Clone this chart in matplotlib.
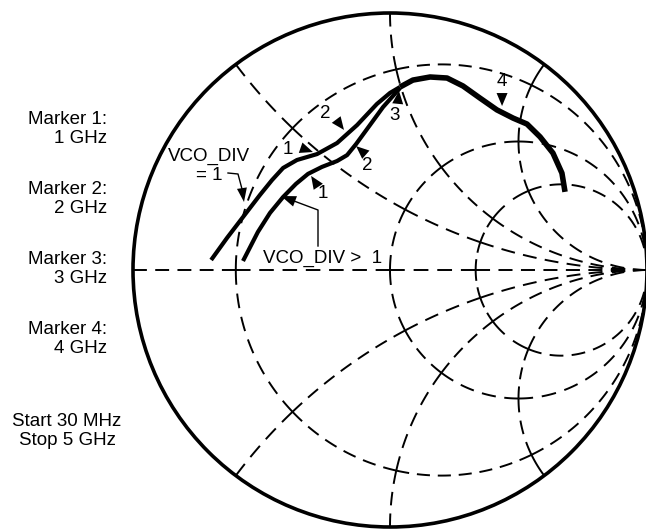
import numpy as np
import matplotlib
matplotlib.use('Agg')
import matplotlib.pyplot as plt
from matplotlib.patches import Polygon, Circle

plt.rcParams['font.family'] = ['Liberation Sans', 'DejaVu Sans']
plt.rcParams['lines.scale_dashes'] = False

# Smith chart grid: constant resistance circles and reactance arcs
r_circles = [0.25, 1, 2]
x_arcs = [0.5, 1, 2]

# Reflection coefficient traces (real, imag)
vco1_re = [-0.696, -0.634, -0.572, -0.506, -0.459, -0.416, -0.362, -0.284, -0.206, -0.128, -0.051, 0.000, 0.039]
vco1_im = [0.039, 0.125, 0.206, 0.292, 0.350, 0.397, 0.428, 0.451, 0.494, 0.564, 0.646, 0.689, 0.712]
vcoN_re = [-0.572, -0.514, -0.467, -0.416, -0.366, -0.319, -0.265, -0.206, -0.167, -0.132, -0.086, -0.027, 0.039]
vcoN_im = [0.035, 0.148, 0.222, 0.284, 0.335, 0.374, 0.401, 0.424, 0.447, 0.490, 0.553, 0.634, 0.708]
# above 3 GHz both traces run together
both_re = [0.039, 0.089, 0.156, 0.222, 0.284, 0.350, 0.416, 0.479, 0.533, 0.584, 0.634, 0.669, 0.681]
both_im = [0.712, 0.739, 0.751, 0.747, 0.716, 0.669, 0.623, 0.591, 0.568, 0.518, 0.455, 0.377, 0.304]

# frequency markers: label, tip position (re, im)
marker_text = ['1', '2', '1', '2', '3', '4']
marker_re = [-0.300, -0.179, -0.307, -0.132, 0.035, 0.436]
marker_im = [0.459, 0.545, 0.366, 0.482, 0.697, 0.638]

side_labels = ['Marker 1:\n1 GHz', 'Marker 2:\n2 GHz', 'Marker 3:\n3 GHz', 'Marker 4:\n4 GHz']

# layout (pixels of the 646x529 picture)
W, H = 646, 529
CX, CY, R = 390, 270, 257


def g(px, py):
    return (px - CX) / R, (CY - py) / R


fig = plt.figure(figsize=(W / 100, H / 100), dpi=100)
ax = fig.add_axes([0, 0, 1, 1])
ax.set_xlim(-CX / R, (W - CX) / R)
ax.set_ylim(-(H - CY) / R, CY / R)
ax.axis('off')

PT = R * 0.72  # points per chart unit


def dashed(xs, ys, lw=1.4, dash=10.0, gap=6.0):
    # fit a whole number of dashes so each segment starts and ends on a dash
    L = np.hypot(np.diff(xs), np.diff(ys)).sum() * PT
    n = max(1, int(round((L + gap) / (dash + gap))))
    if n == 1:
        ax.plot(xs, ys, color='k', lw=lw, solid_capstyle='butt')
        return
    s = L / (n * dash + (n - 1) * gap)
    ax.plot(xs, ys, color='k', lw=lw, linestyle=(0, (dash * s, gap * s)),
            dash_capstyle='butt')


def gamma(r, x):
    z = complex(r, x)
    return (z - 1) / (z + 1)


# resistance circles, split at every reactance arc
x_all = sorted(x_arcs + [-v for v in x_arcs] + [0], reverse=True)
for r in r_circles:
    c, rho = r / (1 + r), 1 / (1 + r)
    angs = [0.0] + [np.angle(gamma(r, xv) - c) % (2 * np.pi) for xv in x_all] + [2 * np.pi]
    for a0, a1 in zip(angs[:-1], angs[1:]):
        t = np.linspace(a0, a1, 80)
        dashed(c + rho * np.cos(t), rho * np.sin(t))

# reactance arcs, split at every resistance circle
r_all = [0] + r_circles
for xv in x_arcs + [-v for v in x_arcs]:
    cen = complex(1, 1 / xv)
    rho = 1 / abs(xv)
    pts = [gamma(r, xv) for r in r_all] + [1 + 0j]
    angs = np.unwrap([np.angle(p - cen) for p in pts])
    for a0, a1 in zip(angs[:-1], angs[1:]):
        t = np.linspace(a0, a1, 80)
        dashed(cen.real + rho * np.cos(t), cen.imag + rho * np.sin(t))

# real axis
axis_pts = [-1.0] + [(r - 1) / (r + 1) for r in r_circles] + [1.0]
for a, b in zip(axis_pts[:-1], axis_pts[1:]):
    dashed(np.array([a, b]), np.array([0.0, 0.0]))

ax.add_patch(Circle((0, 0), 1, fill=False, lw=2.6, color='k'))

# traces
ax.plot(vco1_re, vco1_im, color='k', lw=3.0, solid_capstyle='butt', solid_joinstyle='round')
ax.plot(vcoN_re, vcoN_im, color='k', lw=3.0, solid_capstyle='butt', solid_joinstyle='round')
ax.plot(both_re, both_im, color='k', lw=4.0, solid_capstyle='butt', solid_joinstyle='round')


def tri(tip, d, L=13, w=5.5):
    d = np.array(d, float)
    d /= np.hypot(*d)
    p = np.array([-d[1], d[0]])
    tip = np.array(tip)
    base = tip - L / R * d
    ax.add_patch(Polygon([tip, base + w / R * p, base - w / R * p],
                         closed=True, facecolor='k', edgecolor='none'))


FS = 13.5
marker_dir = [(1, -0.35), (0.6, -0.8), (-0.55, 0.83), (-0.75, 0.66), (0.1, 1), (0, -1)]
label_px = [(288, 149), (325, 113), (323, 193), (367, 166), (395, 115), (502, 82)]
for s, mx, my, d, lp in zip(marker_text, marker_re, marker_im, marker_dir, label_px):
    tri((mx, my), d)
    ax.text(*g(*lp), s, ha='center', va='center', fontsize=FS)

# callouts
ax.text(*g(209, 166), 'VCO_DIV\n= 1', ha='center', va='center', fontsize=FS, linespacing=1.15)
lead = np.array([g(228, 173), g(238, 174), g(242, 189)])
ax.plot(lead[:, 0], lead[:, 1], color='k', lw=1.0)
tri(g(244, 202), (0.15, -1), L=14, w=5)

ax.text(*g(263, 258), 'VCO_DIV >  1', ha='left', va='center', fontsize=FS)
lead = np.array([g(318, 246), g(318, 210), g(294, 201)])
ax.plot(lead[:, 0], lead[:, 1], color='k', lw=1.0)
tri(g(281, 196), (-1, 0.38), L=15, w=5.5)

# left hand notes
for i, s in enumerate(side_labels):
    y = 129 + 70 * i
    fig.text(107 / W, 1 - y / H, s, ha='right', va='center', fontsize=FS, linespacing=1.2)
fig.text(67 / W, 1 - 431 / H, 'Start 30 MHz\nStop 5 GHz', ha='center', va='center',
         fontsize=FS, linespacing=1.2)

fig.savefig('out.png', dpi=100)
